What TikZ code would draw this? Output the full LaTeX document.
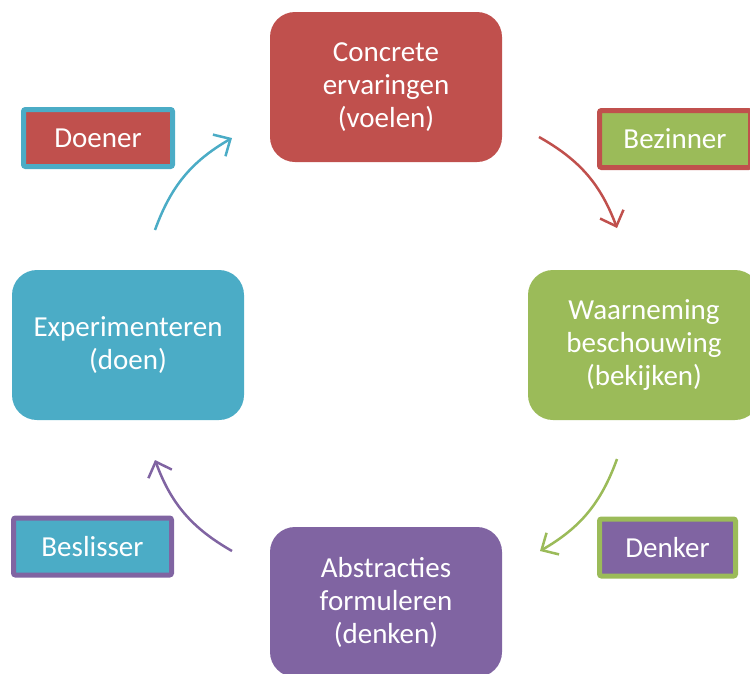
\documentclass[tikz,border=0pt]{standalone}
\usepackage{fontspec}
\setmainfont{Carlito}
\usetikzlibrary{arrows.meta}
\definecolor{kolbred}{HTML}{C0504D}
\definecolor{kolbgreen}{HTML}{9BBB59}
\definecolor{kolbpurple}{HTML}{8064A2}
\definecolor{kolbteal}{HTML}{4BACC6}

\begin{document}
\begin{tikzpicture}[
            x=1pt, y=-1pt,
            stage/.style={rounded corners=25pt, minimum width=232pt, minimum height=150pt, inner sep=0pt,
                text=white, align=center, font=\fontsize{29}{33}\selectfont},
            role/.style={rounded corners=2pt, line width=5pt, minimum height=57pt, inner sep=0pt,
                text=white, font=\fontsize{29}{33}\selectfont},
            cycle/.style={line width=2.5pt, -{Straight Barb[length=13pt, width=25pt, line width=2.5pt]}},
        ]
            \useasboundingbox (0, 0) rectangle (750, 673);
            \clip (0, 0) rectangle (750, 673);
            \node[stage, fill=kolbred] (voelen) at (386, 87) {Concrete\\ervaringen\\(voelen)};
            \node[stage, fill=kolbgreen] (bekijken) at (644, 345) {Waarneming\\beschouwing\\(bekijken)};
            \node[stage, fill=kolbpurple] (denken) at (386, 602) {Abstracties\\formuleren\\(denken)};
            \node[stage, fill=kolbteal] (doen) at (128, 345) {Experimenteren\\(doen)};
            \node[role, fill=kolbred, draw=kolbteal, minimum width=149pt] (doener) at (98, 138) {Doener};
            \node[role, fill=kolbgreen, draw=kolbred, minimum width=151pt] (bezinner) at (675, 139) {Bezinner};
            \node[role, fill=kolbpurple, draw=kolbgreen, minimum width=136pt] (denker) at (667.5, 547.5) {Denker};
            \node[role, fill=kolbteal, draw=kolbpurple, minimum width=158pt] (beslisser) at (92.5, 546.5) {Beslisser};
            % arrows of the cycle
            \coordinate (doenuit) at (155, 230);
            \coordinate (voelenin) at (232, 138);
            \coordinate (voelenuit) at (539, 137);
            \coordinate (bekijkenin) at (617, 228);
            \coordinate (bekijkenuit) at (617, 459);
            \coordinate (denkenin) at (540, 551);
            \coordinate (denkenuit) at (232, 551);
            \coordinate (doenin) at (155, 460);
            \draw[cycle, kolbteal] (doenuit) to[bend left=20] (voelenin);
            \draw[cycle, kolbred] (voelenuit) to[bend left=20] (bekijkenin);
            \draw[cycle, kolbgreen] (bekijkenuit) to[bend left=20] (denkenin);
            \draw[cycle, kolbpurple] (denkenuit) to[bend left=20] (doenin);
        \end{tikzpicture}
\end{document}
